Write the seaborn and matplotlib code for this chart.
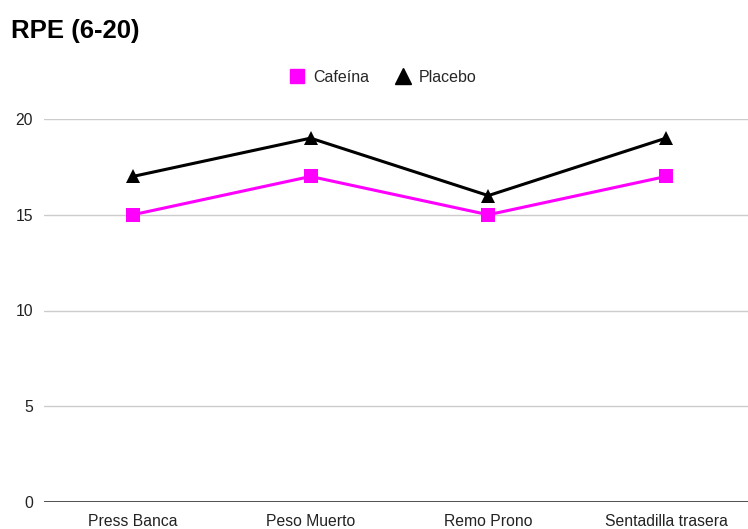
import matplotlib
matplotlib.use("Agg")
import matplotlib.pyplot as plt
from matplotlib.lines import Line2D
import seaborn as sns
import pandas as pd

ejercicios = ["Press Banca", "Peso Muerto", "Remo Prono", "Sentadilla trasera"]
cafeina = [15, 17, 15, 17]
placebo = [17, 19, 16, 19]
y_ticks = [0, 5, 10, 15, 20]

sns.set_theme(style="white")
plt.rcParams["font.family"] = ["Liberation Sans", "DejaVu Sans"]

df = pd.DataFrame({
    "Ejercicio": ejercicios * 2,
    "pos": list(range(len(ejercicios))) * 2,
    "RPE": cafeina + placebo,
    "Grupo": ["Cafeína"] * len(ejercicios) + ["Placebo"] * len(ejercicios),
})

W, H = 748, 529
fig = plt.figure(figsize=(W / 100, H / 100), dpi=100)
ax = fig.add_axes([44 / W, (H - 502) / H, (748 - 44) / W, (502 - 119) / H])

colores = {"Cafeína": "#ff00ff", "Placebo": "#000000"}
marcadores = {"Cafeína": "s", "Placebo": "^"}

sns.lineplot(data=df, x="pos", y="RPE", hue="Grupo", style="Grupo",
             palette=colores, markers=marcadores, dashes=False,
             linewidth=2.2, markersize=9.5, markeredgewidth=0,
             legend=False, ax=ax, clip_on=False, zorder=3)

ax.set_xlim(-0.5, 3.4615)
ax.set_ylim(0, 20)
ax.set_xticks(range(len(ejercicios)))
ax.set_xticklabels(ejercicios)
ax.set_yticks(y_ticks)
ax.set_yticklabels([str(v) for v in y_ticks])
ax.set_xlabel("")
ax.set_ylabel("")
ax.tick_params(axis="both", length=0, labelsize=11.3, labelcolor="#222222")
ax.tick_params(axis="x", pad=9)
ax.tick_params(axis="y", pad=8)
for s in ax.spines.values():
    s.set_visible(False)
ax.yaxis.grid(True, color="#cccccc", linewidth=1)
ax.axhline(0, color="#333333", linewidth=1.2, zorder=2)

fig.text(11 / W, 1 - 31 / H, "RPE (6-20)", fontsize=18.5, fontweight="bold",
         color="#000000", va="center", ha="left")

handles = [
    Line2D([], [], linestyle="none", marker="s", markersize=10, color="#ff00ff"),
    Line2D([], [], linestyle="none", marker="^", markersize=11, color="#000000"),
]
fig.legend(handles, ["Cafeína", "Placebo"], loc="center",
           bbox_to_anchor=(383 / W, 1 - 77 / H), ncol=2, frameon=False,
           fontsize=11.5, handletextpad=0.5, columnspacing=1.6,
           handlelength=1.0)

fig.savefig("out.png", dpi=100)
